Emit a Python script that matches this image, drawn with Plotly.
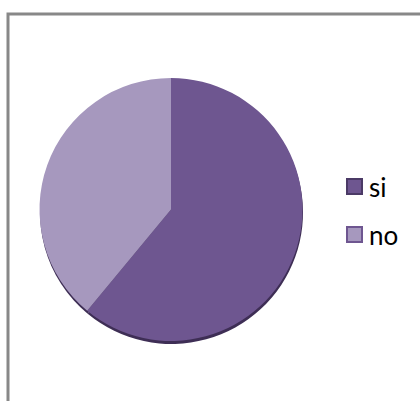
import plotly.graph_objects as go

# Survey answers
labels = ["si", "no"]
values = [61, 39]
slice_colors = ["#6E5690", "#A698BE"]
swatch_borders = ["#4B3A66", "#6E5690"]

W, H = 420, 401

def px_x(v):
    return v / W

def px_y(v):
    return 1 - v / H

fig = go.Figure()

# darker rim beneath the pie for a slight depth effect
fig.add_trace(go.Pie(
    labels=labels, values=values, sort=False, direction="clockwise", rotation=0,
    marker=dict(colors=["#3E2E55", "#3E2E55"], line=dict(width=0)),
    textinfo="none", hoverinfo="skip", showlegend=False,
    domain=dict(x=[px_x(40), px_x(303)], y=[px_y(344), px_y(81)]),
))

fig.add_trace(go.Pie(
    labels=labels, values=values, sort=False, direction="clockwise", rotation=0,
    marker=dict(colors=slice_colors, line=dict(width=0)),
    textinfo="none", showlegend=False,
    domain=dict(x=[px_x(39), px_x(303)], y=[px_y(341), px_y(78)]),
))

# frame around the chart area
shapes = [dict(
    type="rect", xref="paper", yref="paper",
    x0=px_x(8), x1=px_x(440), y0=px_y(430), y1=px_y(14),
    line=dict(color="#888888", width=3), fillcolor="rgba(0,0,0,0)",
    layer="below",
)]
annotations = []

# legend: square swatch + label for each slice
row_tops = [179, 227]
for lab, col, border, top in zip(labels, slice_colors, swatch_borders, row_tops):
    shapes.append(dict(
        type="rect", xref="paper", yref="paper",
        x0=px_x(347), x1=px_x(362), y0=px_y(top + 15), y1=px_y(top),
        line=dict(color=border, width=2), fillcolor=col,
    ))
    annotations.append(dict(
        text=lab, xref="paper", yref="paper",
        x=px_x(367), y=px_y(top + 8), xanchor="left", yanchor="middle",
        showarrow=False, font=dict(size=26, color="#000000"),
    ))

fig.update_layout(
    width=W, height=H,
    margin=dict(l=0, r=0, t=0, b=0),
    paper_bgcolor="white",
    plot_bgcolor="white",
    font=dict(family="Lato, Open Sans, sans-serif", size=20, color="#000000"),
    showlegend=False,
    shapes=shapes,
    annotations=annotations,
)

fig.write_html("out.html")
